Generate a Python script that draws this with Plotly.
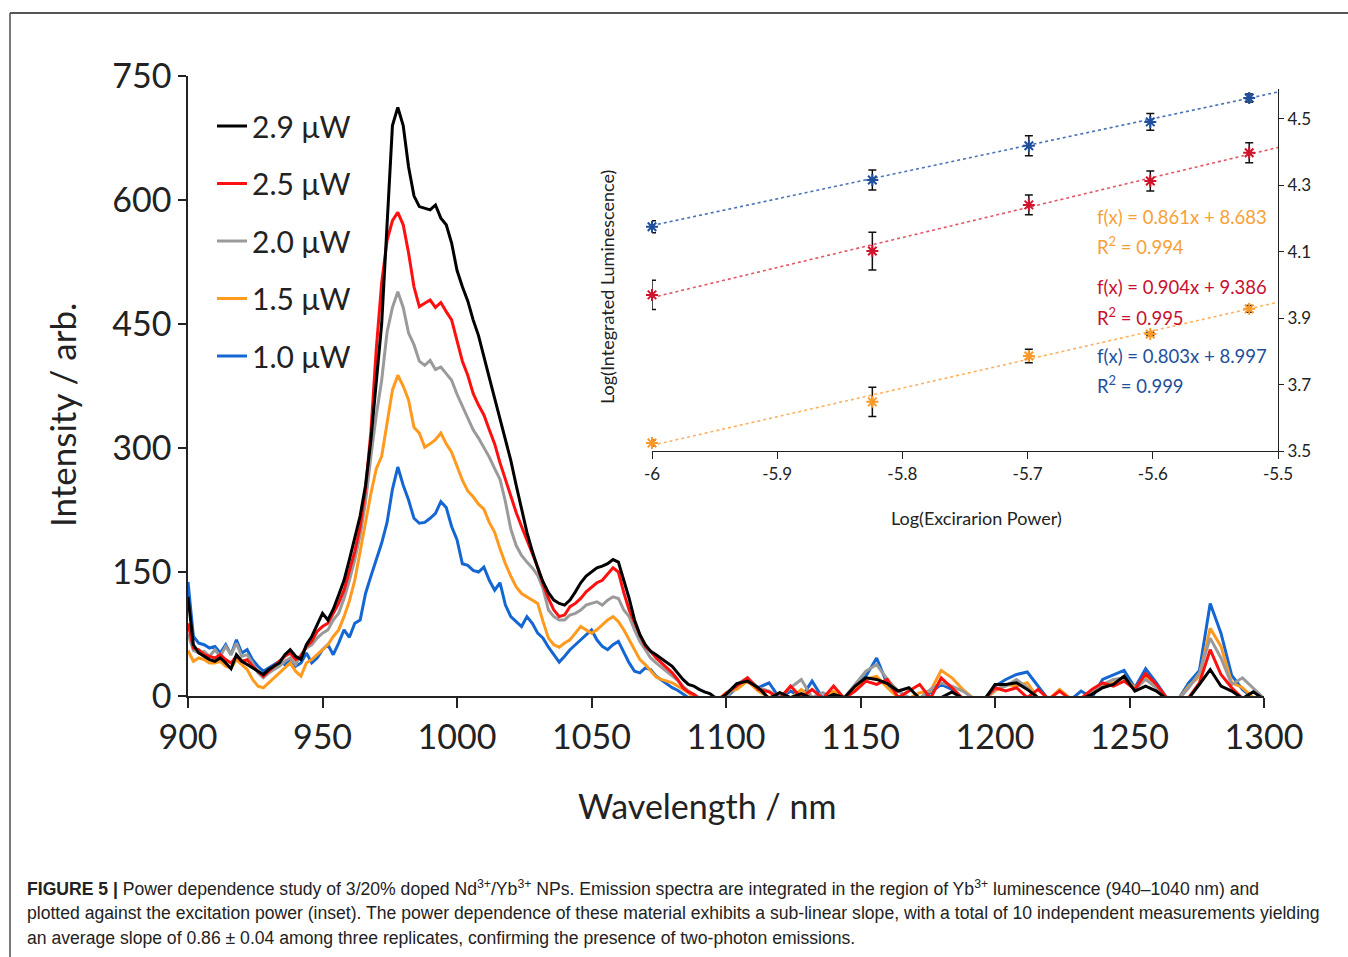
import plotly.graph_objects as go

W, H = 1348, 957

# ---------------- main spectra data ----------------
wl = list(range(900, 1101, 2)) + list(range(1104, 1301, 4))

black_29 = [120, 62, 52, 48, 44, 42, 46, 40, 33, 50, 42, 38, 34, 30, 26, 32, 36, 40, 50, 56,
            48, 44, 62, 72, 86, 100, 92, 105, 122, 140, 165, 190, 218, 255, 310, 380, 450, 570, 690, 712,
            690, 640, 605, 592, 590, 588, 594, 578, 570, 548, 515, 495, 478, 455, 436, 412, 385, 360, 335, 312,
            285, 255, 225, 198, 175, 155, 138, 125, 116, 112, 110, 116, 126, 137, 145, 150, 155, 157, 160, 165,
            162, 140, 118, 92, 74, 62, 54, 50, 45, 40, 36, 28, 20, 14, 12, 8, 5, 3, -2, -3, 2,
            15, 18, 10, -3, 4, -2, 3, -3, -4, 2, -2, 12, 22, 20, 15, 6, 10, -3, -4, -2,
            5, -3, -4, -5, 14, 14, 16, 8, -2, -5, -6, -5, -4, 2, 10, 14, 24, 6, 12, 6,
            -4, -6, -3, 14, 32, 12, 6, -3, 5, -4]

red_25 = [88, 58, 56, 50, 48, 46, 50, 44, 40, 48, 42, 44, 36, 30, 24, 30, 36, 42, 48, 52,
          44, 48, 60, 66, 78, 84, 88, 100, 112, 128, 150, 175, 205, 250, 320, 420, 500, 551, 575, 585,
          570, 536, 495, 471, 475, 479, 470, 476, 465, 455, 430, 405, 388, 366, 352, 340, 322, 305, 282, 262,
          240, 222, 205, 189, 172, 156, 135, 118, 104, 96, 98, 108, 112, 118, 126, 132, 137, 140, 148, 155,
          150, 125, 104, 88, 74, 60, 54, 46, 40, 34, 28, 20, 10, 5, 2, -3, -4, -2, -3, -2, 3,
          12, 22, 8, 5, -3, 12, -2, 8, -3, 12, -3, 6, 18, 14, 20, -2, 6, 14, -3, 22,
          10, -3, -4, -4, 10, 6, 10, -2, 8, -4, 6, -4, -3, 8, 16, 12, 18, 8, 27, 14,
          -3, -6, -2, 16, 56, 26, 10, -3, -2, -4]

gray_20 = [75, 55, 52, 54, 48, 56, 48, 60, 50, 64, 48, 50, 40, 28, 22, 28, 32, 36, 42, 46,
           38, 50, 58, 62, 70, 76, 80, 92, 100, 118, 140, 165, 195, 235, 290, 340, 382, 440, 470, 489,
           470, 439, 425, 405, 400, 406, 395, 398, 390, 382, 365, 350, 336, 322, 312, 300, 289, 275, 262, 235,
           202, 182, 170, 162, 155, 146, 130, 104, 96, 92, 92, 98, 100, 104, 110, 112, 114, 110, 116, 120,
           118, 104, 96, 80, 66, 56, 46, 40, 35, 30, 24, 19, 12, 6, 2, -2, -3, -2, -4, -3, -2,
           14, 22, 10, 6, -2, 10, 20, -2, 4, -3, -2, 14, 30, 38, 20, 6, -2, -3, 8, 16,
           12, 6, -3, -4, 8, 12, 20, 10, -3, -5, -5, -4, -3, 4, 14, 20, 22, 8, 20, 10,
           -3, -5, 10, 28, 70, 46, 14, 22, 10, -3]

orange_15 = [55, 42, 46, 44, 40, 40, 42, 36, 34, 44, 38, 32, 20, 12, 10, 16, 22, 28, 34, 40,
             30, 24, 40, 44, 50, 56, 62, 72, 80, 96, 115, 140, 175, 210, 245, 275, 290, 330, 370, 388,
             375, 358, 325, 318, 301, 305, 310, 318, 305, 295, 277, 261, 248, 241, 232, 226, 210, 198, 178, 160,
             145, 132, 124, 120, 116, 112, 90, 70, 62, 59, 64, 68, 76, 84, 80, 76, 80, 86, 92, 96,
             90, 80, 68, 56, 44, 38, 30, 23, 20, 18, 16, 12, 8, 4, -2, -3, -4, -2, -3, -2, 4,
             8, 18, 6, -2, 4, -3, 8, -3, -2, 6, -3, 10, 20, 24, 10, -2, -3, 4, 6, 31,
             22, 8, -3, -4, 6, 14, 12, 16, -3, -4, 8, -3, -3, 5, 12, 16, 22, 10, 22, 12,
             -3, -5, 12, 24, 82, 60, 16, 10, -2, -4]

blue_10 = [138, 72, 64, 62, 58, 60, 52, 62, 50, 68, 52, 56, 44, 36, 30, 34, 38, 42, 38, 44,
           36, 40, 52, 40, 46, 56, 62, 50, 64, 80, 71, 88, 92, 124, 145, 165, 185, 210, 250, 277,
           255, 237, 215, 209, 210, 215, 221, 235, 228, 205, 189, 160, 158, 152, 150, 156, 140, 128, 137, 110,
           96, 90, 84, 96, 88, 76, 70, 59, 50, 41, 48, 56, 62, 68, 74, 80, 68, 60, 56, 62,
           66, 52, 40, 30, 28, 34, 32, 24, 19, 14, 10, 7, 3, -2, -3, -4, -3, -2, -3, -2, -2,
           10, 20, 10, 16, -3, 6, -2, 18, -3, -2, -3, 12, 24, 46, 14, -2, -4, -3, 4, 14,
           8, -3, -4, -4, 12, 20, 26, 29, 12, -5, -5, -5, 6, -2, 20, 26, 31, 10, 33, 16,
           -3, -5, 16, 31, 112, 76, 25, 8, -3, -4]

series_names = ["1.0 μW", "1.5 μW", "2.0 μW", "2.5 μW", "2.9 μW"]
series_values = [blue_10, orange_15, gray_20, red_25, black_29]
series_colors = ["#1466d2", "#ff9a1e", "#9a9a9a", "#ff1010", "#000000"]
legend_ranks = [5, 4, 3, 2, 1]

# ---------------- inset data ----------------
log_power = [-6.0, -5.824, -5.699, -5.602, -5.523]
blue_log = [4.175, 4.316, 4.419, 4.491, 4.563]
blue_err = [0.018, 0.030, 0.030, 0.025, 0.012]
red_log = [3.970, 4.102, 4.241, 4.313, 4.398]
red_err = [0.044, 0.057, 0.030, 0.030, 0.030]
orange_log = [3.524, 3.648, 3.786, 3.852, 3.928]
orange_err = [0.008, 0.044, 0.020, 0.005, 0.010]

fit_x = [-6.0, -5.5]
blue_fit = [4.179, 4.581]
red_fit = [3.962, 4.414]
orange_fit = [3.517, 3.948]

inset_x_ticks = [-6.0, -5.9, -5.8, -5.7, -5.6, -5.5]
inset_x_labels = ["-6", "-5.9", "-5.8", "-5.7", "-5.6", "-5.5"]
inset_y_ticks = [3.5, 3.7, 3.9, 4.1, 4.3, 4.5]
inset_y_labels = ["3.5", "3.7", "3.9", "4.1", "4.3", "4.5"]


def px(xp):
    return xp / W


def py(yp):
    return 1 - yp / H


FONT = "Lato"
TXT = "#222222"

fig = go.Figure()

for name, vals, col, rk in zip(series_names, series_values, series_colors, legend_ranks):
    fig.add_trace(go.Scatter(
        x=wl, y=vals, mode="lines", name=name, legendgroup=name, legendrank=rk,
        line=dict(color=col, width=3), xaxis="x", yaxis="y"))

inset_sets = [
    (blue_log, blue_err, blue_fit, "#1f4f9c", "#4a72b8"),
    (red_log, red_err, red_fit, "#d0142c", "#e25565"),
    (orange_log, orange_err, orange_fit, "#f79a2a", "#ffb060"),
]
for vals, err, fit, mcol, lcol in inset_sets:
    fig.add_trace(go.Scatter(
        x=fit_x, y=fit, mode="lines", showlegend=False,
        line=dict(color=lcol, width=1.6, dash="dot"), xaxis="x2", yaxis="y2"))
for vals, err, fit, mcol, lcol in inset_sets:
    fig.add_trace(go.Scatter(
        x=log_power, y=vals, mode="markers", showlegend=False, cliponaxis=False,
        marker=dict(symbol="asterisk-open", size=10, color=mcol, line=dict(color=mcol, width=2)),
        error_y=dict(type="data", array=err, visible=True, color="#111111", thickness=1.5, width=4),
        xaxis="x2", yaxis="y2"))

annotations = [
    dict(text="Wavelength / nm", x=px(707), y=py(805), xref="paper", yref="paper",
         showarrow=False, font=dict(family=FONT, size=34, color=TXT), xanchor="center", yanchor="middle"),
    dict(text="Intensity / arb.", x=px(62), y=py(415), xref="paper", yref="paper", textangle=-90,
         showarrow=False, font=dict(family=FONT, size=35, color=TXT), xanchor="center", yanchor="middle"),
    dict(text="Log(Excirarion Power)", x=px(976), y=py(518), xref="paper", yref="paper",
         showarrow=False, font=dict(family=FONT, size=18, color=TXT), xanchor="center", yanchor="middle"),
    dict(text="Log(Integrated Luminescence)", x=px(607), y=py(287), xref="paper", yref="paper", textangle=-90,
         showarrow=False, font=dict(family=FONT, size=18, color=TXT), xanchor="center", yanchor="middle"),
]

eqs = [
    ("f(x) = 0.861x + 8.683", 217, "#f7a035"),
    ("R<sup>2</sup> = 0.994", 245, "#f7a035"),
    ("f(x) = 0.904x + 9.386", 287, "#c8102e"),
    ("R<sup>2</sup> = 0.995", 316, "#c8102e"),
    ("f(x) = 0.803x + 8.997", 356, "#1f4f9c"),
    ("R<sup>2</sup> = 0.999", 384, "#1f4f9c"),
]
for t, yy, c in eqs:
    annotations.append(dict(text=t, x=px(1095), y=py(yy), xref="paper", yref="paper", showarrow=False,
                            font=dict(family=FONT, size=18.5, color=c), xanchor="left", yanchor="middle"))

caption = [
    ("<b>FIGURE 5 |</b> Power dependence study of 3/20% doped Nd<sup>3+</sup>/Yb<sup>3+</sup> NPs. "
     "Emission spectra are integrated in the region of Yb<sup>3+</sup> luminescence (940–1040 nm) and", 888),
    ("plotted against the excitation power (inset). The power dependence of these material exhibits a "
     "sub-linear slope, with a total of 10 independent measurements yielding", 913),
    ("an average slope of 0.86 ± 0.04 among three replicates, confirming the presence of two-photon emissions.", 938),
]
for t, yy in caption:
    annotations.append(dict(text=t, x=px(25), y=py(yy), xref="paper", yref="paper", showarrow=False,
                            font=dict(family="Liberation Sans", size=17.6, color="#222222"),
                            xanchor="left", yanchor="middle", align="left"))

shapes = [
    dict(type="line", xref="paper", yref="paper", x0=px(10), x1=px(10), y0=py(13), y1=py(960),
         line=dict(color="#7a7a7a", width=2)),
    dict(type="line", xref="paper", yref="paper", x0=px(10), x1=px(1350), y0=py(13), y1=py(13),
         line=dict(color="#555555", width=2)),
]

fig.update_layout(
    width=W, height=H,
    margin=dict(l=0, r=0, t=0, b=0, autoexpand=False),
    paper_bgcolor="white", plot_bgcolor="rgba(0,0,0,0)",
    showlegend=True,
    legend=dict(x=px(212), y=py(100), xanchor="left", yanchor="top",
                traceorder="grouped", tracegroupgap=15.5,
                font=dict(family=FONT, size=30, color=TXT), bgcolor="rgba(0,0,0,0)"),
    xaxis=dict(domain=[px(188), px(1264)], range=[900, 1300], tickvals=list(range(900, 1301, 50)),
               ticks="outside", ticklen=10, tickwidth=1.5, tickcolor="#222", showline=True, automargin=False,
               linecolor="#222", linewidth=1.5, showgrid=False, zeroline=False, anchor="y",
               tickfont=dict(family=FONT, size=34, color=TXT)),
    yaxis=dict(domain=[py(696), py(76)], range=[0, 750], tickvals=[0, 150, 300, 450, 600, 750],
               ticks="outside", ticklen=8, tickwidth=1.5, tickcolor="#222", showline=True, automargin=False,
               linecolor="#222", linewidth=1.5, showgrid=False, zeroline=False, anchor="x",
               tickfont=dict(family=FONT, size=34, color=TXT)),
    xaxis2=dict(domain=[px(652), px(1278)], range=[-6, -5.5], tickvals=inset_x_ticks, ticktext=inset_x_labels,
                ticks="outside", ticklen=7, tickwidth=1.2, tickcolor="#222", showline=True, automargin=False,
                linecolor="#222", linewidth=1.2, showgrid=False, zeroline=False, anchor="y2",
                tickfont=dict(family=FONT, size=17, color=TXT)),
    yaxis2=dict(domain=[py(451), py(89)], range=[3.5, 4.59], tickvals=inset_y_ticks, ticktext=inset_y_labels,
                side="right", ticks="outside", ticklen=5, tickwidth=1.2, tickcolor="#222", showline=True,
                automargin=False,
                linecolor="#222", linewidth=1.2, showgrid=False, zeroline=False, anchor="x2",
                tickfont=dict(family=FONT, size=17, color=TXT)),
    annotations=annotations,
    shapes=shapes,
)

fig.write_html("out.html")
